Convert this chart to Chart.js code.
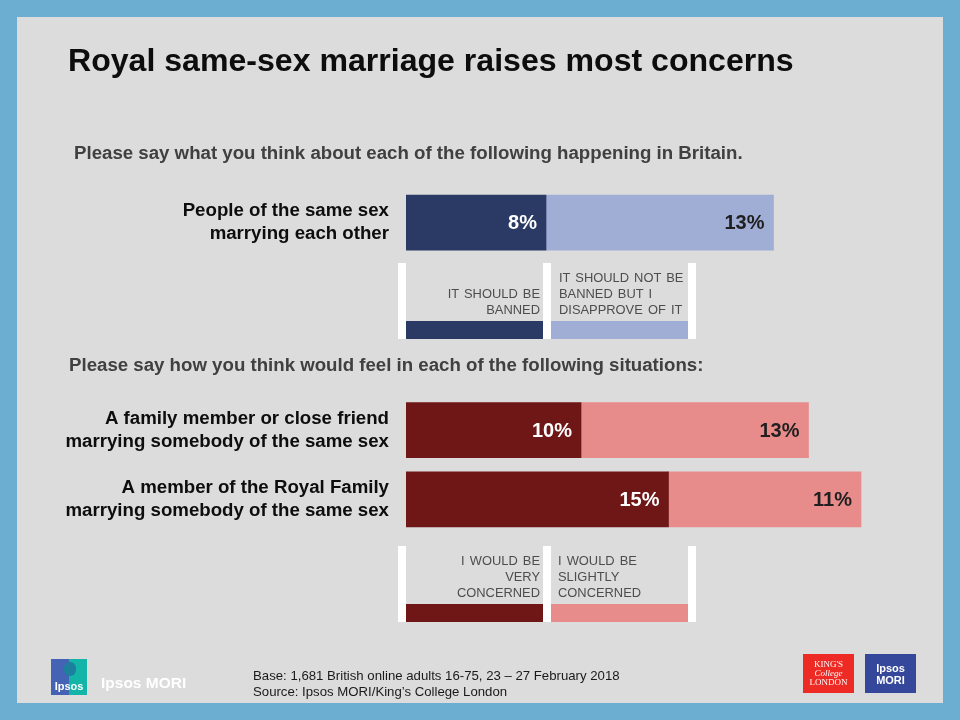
<!DOCTYPE html>
<html>
<head>
<meta charset="utf-8">
<script src="https://cdn.jsdelivr.net/npm/chart.js@4"></script>
<style>
html, body { margin: 0; padding: 0; }
body { width: 960px; height: 720px; background: #6cadd2; position: relative; overflow: hidden; font-family: "Liberation Sans", Arial, sans-serif; }
#panel { position: absolute; left: 17px; top: 17px; width: 926px; height: 686px; background: #dcdcdc; }
#chartBox { position: absolute; left: 0; top: 0; width: 960px; height: 720px; }
.t { position: absolute; white-space: nowrap; }
#title { left: 68px; top: 42px; font-size: 32.1px; font-weight: bold; color: #0d0d0d; }
.sub { font-size: 18.67px; font-weight: bold; color: #404040; }
.white { position: absolute; width: 8px; background: #fff; }
.swatch { position: absolute; height: 18px; }
.key { position: absolute; font-size: 12.9px; line-height: 16px; color: #4d4d4d; white-space: pre; word-spacing: 1.5px; }
.base { font-size: 13.2px; line-height: 16px; color: #1a1a1a; }
.logo { position: absolute; color: #fff; font-weight: bold; text-align: center; }
</style>
</head>
<body>
<div id="panel"></div>
<div id="chartBox"><canvas id="myChart" width="960" height="720"></canvas></div>

<div class="t" id="title">Royal same-sex marriage raises most concerns</div>
<div class="t sub" style="left:74px;top:142px">Please say what you think about each of the following happening in Britain.</div>
<div class="t sub" style="left:69px;top:354px">Please say how you think would feel in each of the following situations:</div>

<!-- legend blocks -->
<div class="white" style="left:398px;top:263px;height:76px"></div>
<div class="white" style="left:543px;top:263px;height:76px"></div>
<div class="white" style="left:688px;top:263px;height:76px"></div>
<div class="swatch" style="left:406px;top:321px;width:137px;background:#2b3a64"></div>
<div class="swatch" style="left:551px;top:321px;width:137px;background:#a0aed6"></div>
<div class="key" style="right:420px;top:286px;text-align:right">IT SHOULD BE
BANNED</div>
<div class="key" style="left:559px;top:270px">IT SHOULD NOT BE
BANNED BUT I
DISAPPROVE OF IT</div>

<div class="white" style="left:398px;top:546px;height:76px"></div>
<div class="white" style="left:543px;top:546px;height:76px"></div>
<div class="white" style="left:688px;top:546px;height:76px"></div>
<div class="swatch" style="left:406px;top:604px;width:137px;background:#6f1616"></div>
<div class="swatch" style="left:551px;top:604px;width:137px;background:#e78b8b"></div>
<div class="key" style="right:420px;top:553px;text-align:right">I WOULD BE
VERY
CONCERNED</div>
<div class="key" style="left:558px;top:553px">I WOULD BE
SLIGHTLY
CONCERNED</div>

<!-- footer -->
<div class="t base" style="left:253px;top:668px">Base: 1,681 British online adults 16-75, 23 – 27 February 2018<br>Source: Ipsos MORI/King’s College London</div>

<div style="position:absolute;left:51px;top:659px;width:36px;height:36px;background:linear-gradient(90deg,#4463b4 50%,#12b5a8 50%)"></div>
<div class="logo" style="left:51px;top:680px;width:36px;font-size:11px">Ipsos</div>
<div style="position:absolute;left:64px;top:662px;width:12px;height:14px;border-radius:6px;background:#1c7f9c"></div>
<div class="logo" style="left:101px;top:674px;font-size:15.5px;white-space:nowrap">Ipsos MORI</div>

<div style="position:absolute;left:803px;top:654px;width:51px;height:39px;background:#ee2a24"></div>
<div class="logo" style="left:803px;top:660px;width:51px;font-family:'Liberation Serif',serif;font-weight:normal;font-size:9px;line-height:9px">KING'S<br><i>College</i><br>LONDON</div>
<div style="position:absolute;left:865px;top:654px;width:51px;height:39px;background:#34479b"></div>
<div class="logo" style="left:865px;top:662px;width:51px;font-size:11px;line-height:12px">Ipsos<br>MORI</div>

<script>
// rows 1 and 2 are empty, they leave the gap for the first legend
var categories = [
  ['People of the same sex', 'marrying each other'],
  '',
  '',
  ['A family member or close friend', 'marrying somebody of the same sex'],
  ['A member of the Royal Family', 'marrying somebody of the same sex']
];
var strongValues = [8, null, null, 10, 15];
var mildValues = [13, null, null, 13, 11];
var strongColors = ['#2b3a64', null, null, '#6f1616', '#6f1616'];
var mildColors = ['#a0aed6', null, null, '#e78b8b', '#e78b8b'];

// draws the % labels inside the right end of each bar
var barLabels = {
  id: 'barLabels',
  afterDatasetsDraw: function(chart) {
    var ctx = chart.ctx;
    ctx.save();
    ctx.font = 'bold 20px "Liberation Sans", Arial, sans-serif';
    ctx.textAlign = 'right';
    ctx.textBaseline = 'middle';
    chart.data.datasets.forEach(function(ds, d) {
      chart.getDatasetMeta(d).data.forEach(function(bar, i) {
        if (ds.data[i] == null) return;
        ctx.fillStyle = d === 0 ? '#ffffff' : '#1f1f1f';
        ctx.fillText(ds.data[i] + '%', bar.x - 9, bar.y + 1);
      });
    });
    ctx.restore();
  }
};

var ctx = document.getElementById('myChart').getContext('2d');
var myChart = new Chart(ctx, {
  type: 'bar',
  data: {
    labels: categories,
    datasets: [
      { data: strongValues, backgroundColor: strongColors, barThickness: 55 },
      { data: mildValues, backgroundColor: mildColors, barThickness: 55 }
    ]
  },
  options: {
    indexAxis: 'y',
    responsive: false,
    animation: false,
    layout: { padding: { top: 188, bottom: 186, right: 29, left: 0 } },
    plugins: { legend: { display: false }, tooltip: { enabled: false } },
    scales: {
      x: { stacked: true, min: 0, max: 30, display: false },
      y: {
        stacked: true,
        grid: { display: false },
        border: { display: false },
        afterFit: function(scale) { scale.width = 406; },
        ticks: {
          color: '#0d0d0d',
          padding: 9,
          autoSkip: false,
          font: { family: '"Liberation Sans", Arial, sans-serif', size: 18.67, weight: 'bold', lineHeight: 1.22 }
        }
      }
    }
  },
  plugins: [barLabels]
});
</script>
</body>
</html>
